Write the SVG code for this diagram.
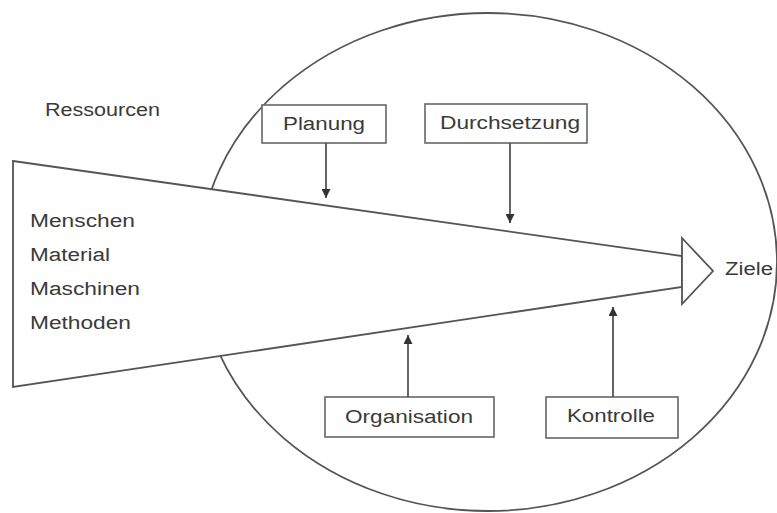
<svg xmlns="http://www.w3.org/2000/svg" width="777" height="513" viewBox="0 0 777 513">
<style>
.ln{fill:none;stroke:#555;stroke-width:1.8}
.shape{fill:#fff;stroke:#555;stroke-width:1.8}
.box{fill:#fff;stroke:#666;stroke-width:1.6}
.t{font-family:"Liberation Sans",Arial,sans-serif;font-size:18px;fill:#3a3a3a}
</style>
<defs>
<marker id="ah" viewBox="0 0 10 10" refX="10" refY="5" markerWidth="9" markerHeight="9" markerUnits="userSpaceOnUse" orient="auto">
<path d="M0,0 L10,5 L0,10 Z" fill="#333"/>
</marker>
</defs>
<rect width="777" height="513" fill="#fff"/>
<g id="umfeld">
<ellipse cx="488" cy="262" rx="289" ry="249" class="ln"/>
</g>
<g id="ressourcen-label">
<text class="t" x="45" y="116" textLength="115" lengthAdjust="spacingAndGlyphs">Ressourcen</text>
</g>
<g id="ressourcen">
<polygon class="shape" points="13,161 682,256 682,287 13,387"/>
<polygon class="shape" points="682,238 713,271 682,304"/>
<text class="t" x="30" y="227" textLength="105" lengthAdjust="spacingAndGlyphs">Menschen</text>
<text class="t" x="30" y="261" textLength="80" lengthAdjust="spacingAndGlyphs">Material</text>
<text class="t" x="30" y="295" textLength="110" lengthAdjust="spacingAndGlyphs">Maschinen</text>
<text class="t" x="30" y="329" textLength="101" lengthAdjust="spacingAndGlyphs">Methoden</text>
</g>
<g id="ziele">
<text class="t" x="725" y="275" textLength="48" lengthAdjust="spacingAndGlyphs">Ziele</text>
</g>
<g id="planung">
<rect class="box" x="262" y="105" width="124" height="38"/>
<text class="t" x="283" y="130" textLength="82" lengthAdjust="spacingAndGlyphs">Planung</text>
</g>
<g id="durchsetzung">
<rect class="box" x="425" y="104" width="162" height="39"/>
<text class="t" x="440" y="129" textLength="140" lengthAdjust="spacingAndGlyphs">Durchsetzung</text>
</g>
<g id="organisation">
<rect class="box" x="325" y="397" width="169" height="40"/>
<text class="t" x="345" y="423" textLength="128" lengthAdjust="spacingAndGlyphs">Organisation</text>
</g>
<g id="kontrolle">
<rect class="box" x="546" y="397" width="132" height="41"/>
<text class="t" x="567" y="422" textLength="88" lengthAdjust="spacingAndGlyphs">Kontrolle</text>
</g>
<g id="connectors">
<line class="ln" x1="326" y1="143" x2="326" y2="198" marker-end="url(#ah)"/>
<line class="ln" x1="510" y1="143" x2="510" y2="223" marker-end="url(#ah)"/>
<line class="ln" x1="408" y1="397" x2="408" y2="335" marker-end="url(#ah)"/>
<line class="ln" x1="613" y1="397" x2="613" y2="307" marker-end="url(#ah)"/>
</g>
</svg>
